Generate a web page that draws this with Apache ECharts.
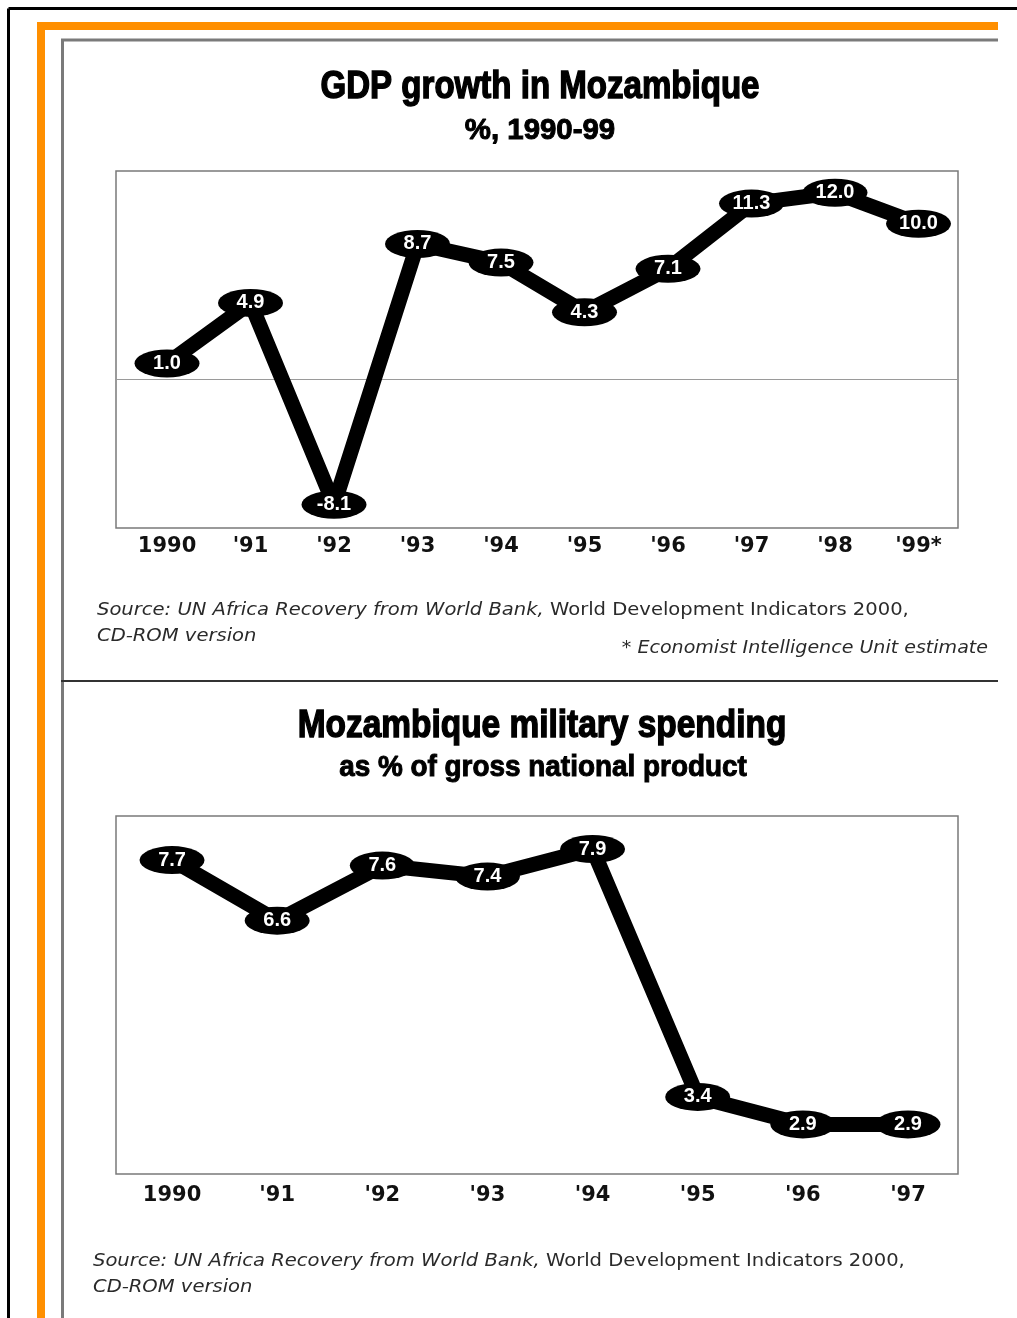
<!DOCTYPE html>
<html>
<head>
<meta charset="utf-8">
<style>
  html, body { margin: 0; padding: 0; background: #fff; }
  #chart { width: 1017px; height: 1318px; }
</style>
<script src="https://cdn.jsdelivr.net/npm/echarts@6/dist/echarts.min.js"></script>
</head>
<body>
<div id="chart"></div>
<script>
// ---- data ----
const gdpYears = ['1990', "'91", "'92", "'93", "'94", "'95", "'96", "'97", "'98", "'99*"];
const gdpValues = [1.0, 4.9, -8.1, 8.7, 7.5, 4.3, 7.1, 11.3, 12.0, 10.0];
const milYears = ['1990', "'91", "'92", "'93", "'94", "'95", "'96", "'97"];
const milValues = [7.7, 6.6, 7.6, 7.4, 7.9, 3.4, 2.9, 2.9];

const gdpTitle = 'GDP growth in Mozambique';
const gdpSubtitle = '%, 1990-99';
const milTitle = 'Mozambique military spending';
const milSubtitle = 'as % of gross national product';
const sourceItalic = 'Source: UN Africa Recovery from World Bank, ';
const sourceUpright = 'World Development Indicators 2000,';
const sourceLine2 = 'CD-ROM version';
const gdpNote = '* Economist Intelligence Unit estimate';

// ---- chart ----
const chart = echarts.init(document.getElementById('chart'), null, { renderer: 'canvas' });

const labelFont = '"DejaVu Sans", sans-serif';
const titleFont = '"Liberation Sans", Arial, sans-serif';

function xAxisFor(years, gridIndex, min, max, margin) {
  return {
    type: 'value', gridIndex: gridIndex, min: min, max: max,
    axisLine: { show: false }, axisTick: { show: false }, splitLine: { show: false },
    axisLabel: {
      customValues: years.map((_, i) => i),
      formatter: v => years[Math.round(v)] || '',
      fontFamily: labelFont, fontWeight: 'bold', fontSize: 21, color: '#111', margin: margin
    }
  };
}
function yAxisFor(gridIndex, min, max) {
  return { type: 'value', gridIndex: gridIndex, min: min, max: max, show: false };
}
function lineSeries(values, xi, yi, extra) {
  return Object.assign({
    type: 'line', xAxisIndex: xi, yAxisIndex: yi, z: 3,
    data: values.map((v, i) => [i, v]),
    lineStyle: { color: '#000', width: 15, join: 'round' },
    itemStyle: { color: '#000', borderWidth: 0 },
    symbol: 'circle', symbolSize: [65, 28], showAllSymbol: true,
    label: {
      show: true, position: 'inside', color: '#fff', fontWeight: 'bold',
      fontSize: 20, fontFamily: titleFont,
      formatter: p => p.value[1].toFixed(1)
    },
    emphasis: { disabled: true }, animation: false, silent: true
  }, extra || {});
}

function txt(x, y, text, fontSize, opts) {
  opts = opts || {};
  const st = {
    x: 0, y: 0, text: text,
    fontSize: fontSize, fontWeight: opts.weight || 'bold', fontStyle: opts.style || 'normal',
    fontFamily: opts.family || titleFont,
    fill: opts.fill || '#000',
    align: opts.align || 'center', textAlign: opts.align || 'center',
    verticalAlign: 'middle', textVerticalAlign: 'middle',
    rich: opts.rich
  };
  if (opts.stroke) { st.stroke = '#000'; st.lineWidth = opts.stroke; }
  return { type: 'text', x: x, y: y, scaleX: opts.scaleX || 1, z: 10, style: st };
}
const srcRich = {
  i: { fontStyle: 'italic', fontSize: 17, fontFamily: labelFont, fill: '#2a2a2a' },
  n: { fontStyle: 'normal', fontSize: 17, fontFamily: labelFont, fill: '#2a2a2a' }
};
const srcScale = 1.15;

const graphics = [
  // outer black frame
  { type: 'line', shape: { x1: 8.5, y1: 8.5, x2: 1017, y2: 8.5 }, style: { stroke: '#000', lineWidth: 3 } },
  { type: 'line', shape: { x1: 8.5, y1: 8.5, x2: 8.5, y2: 1318 }, style: { stroke: '#000', lineWidth: 3 } },
  // orange band
  { type: 'rect', shape: { x: 37, y: 22, width: 961, height: 8 }, style: { fill: '#ff8f00' } },
  { type: 'rect', shape: { x: 37, y: 22, width: 8, height: 1296 }, style: { fill: '#ff8f00' } },
  // grey inner frame
  { type: 'line', shape: { x1: 61, y1: 40, x2: 998, y2: 40 }, style: { stroke: '#7a7a7a', lineWidth: 3 } },
  { type: 'line', shape: { x1: 62.5, y1: 40, x2: 62.5, y2: 1318 }, style: { stroke: '#7a7a7a', lineWidth: 3 } },
  // divider
  { type: 'line', shape: { x1: 61, y1: 681, x2: 998, y2: 681 }, style: { stroke: '#333', lineWidth: 2 } },
  // titles
  txt(540, 88, gdpTitle, 38, { scaleX: 0.87, stroke: 1.4 }),
  txt(540, 131, gdpSubtitle, 30, { scaleX: 0.98, stroke: 1 }),
  txt(542, 727, milTitle, 38, { scaleX: 0.88, stroke: 1.4 }),
  txt(543, 768, milSubtitle, 30, { scaleX: 0.93, stroke: 1 }),
  // sources
  txt(97, 611, '{i|' + sourceItalic + '}{n|' + sourceUpright + '}', 17, { align: 'left', weight: 'normal', rich: srcRich, scaleX: srcScale }),
  txt(97, 637, '{i|' + sourceLine2 + '}', 17, { align: 'left', weight: 'normal', rich: srcRich, scaleX: srcScale }),
  txt(988, 649, '{i|' + gdpNote + '}', 17, { align: 'right', weight: 'normal', rich: srcRich, scaleX: 1.12 }),
  txt(93, 1262, '{i|' + sourceItalic + '}{n|' + sourceUpright + '}', 17, { align: 'left', weight: 'normal', rich: srcRich, scaleX: srcScale }),
  txt(93, 1288, '{i|' + sourceLine2 + '}', 17, { align: 'left', weight: 'normal', rich: srcRich, scaleX: srcScale })
];

const option = {
  animation: false,
  backgroundColor: '#fff',
  grid: [
    { left: 116, top: 171, width: 842, height: 357, show: true, borderColor: '#7a7a7a', borderWidth: 1.5, backgroundColor: 'transparent' },
    { left: 116, top: 816, width: 842, height: 358, show: true, borderColor: '#7a7a7a', borderWidth: 1.5, backgroundColor: 'transparent' }
  ],
  xAxis: [
    xAxisFor(gdpYears, 0, -0.611, 9.473, 8),
    xAxisFor(milYears, 1, -0.533, 7.476, 11)
  ],
  yAxis: [
    yAxisFor(0, -9.6, 13.4),
    yAxisFor(1, 2.0, 8.5)
  ],
  series: [
    lineSeries(gdpValues, 0, 0, {
      markLine: {
        silent: true, symbol: 'none', z: 1, animation: false,
        label: { show: false },
        lineStyle: { color: '#9a9a9a', width: 1, type: 'solid' },
        data: [{ yAxis: 0 }]
      }
    }),
    lineSeries(milValues, 1, 1)
  ],
  graphic: graphics
};
chart.setOption(option);
</script>
</body>
</html>
